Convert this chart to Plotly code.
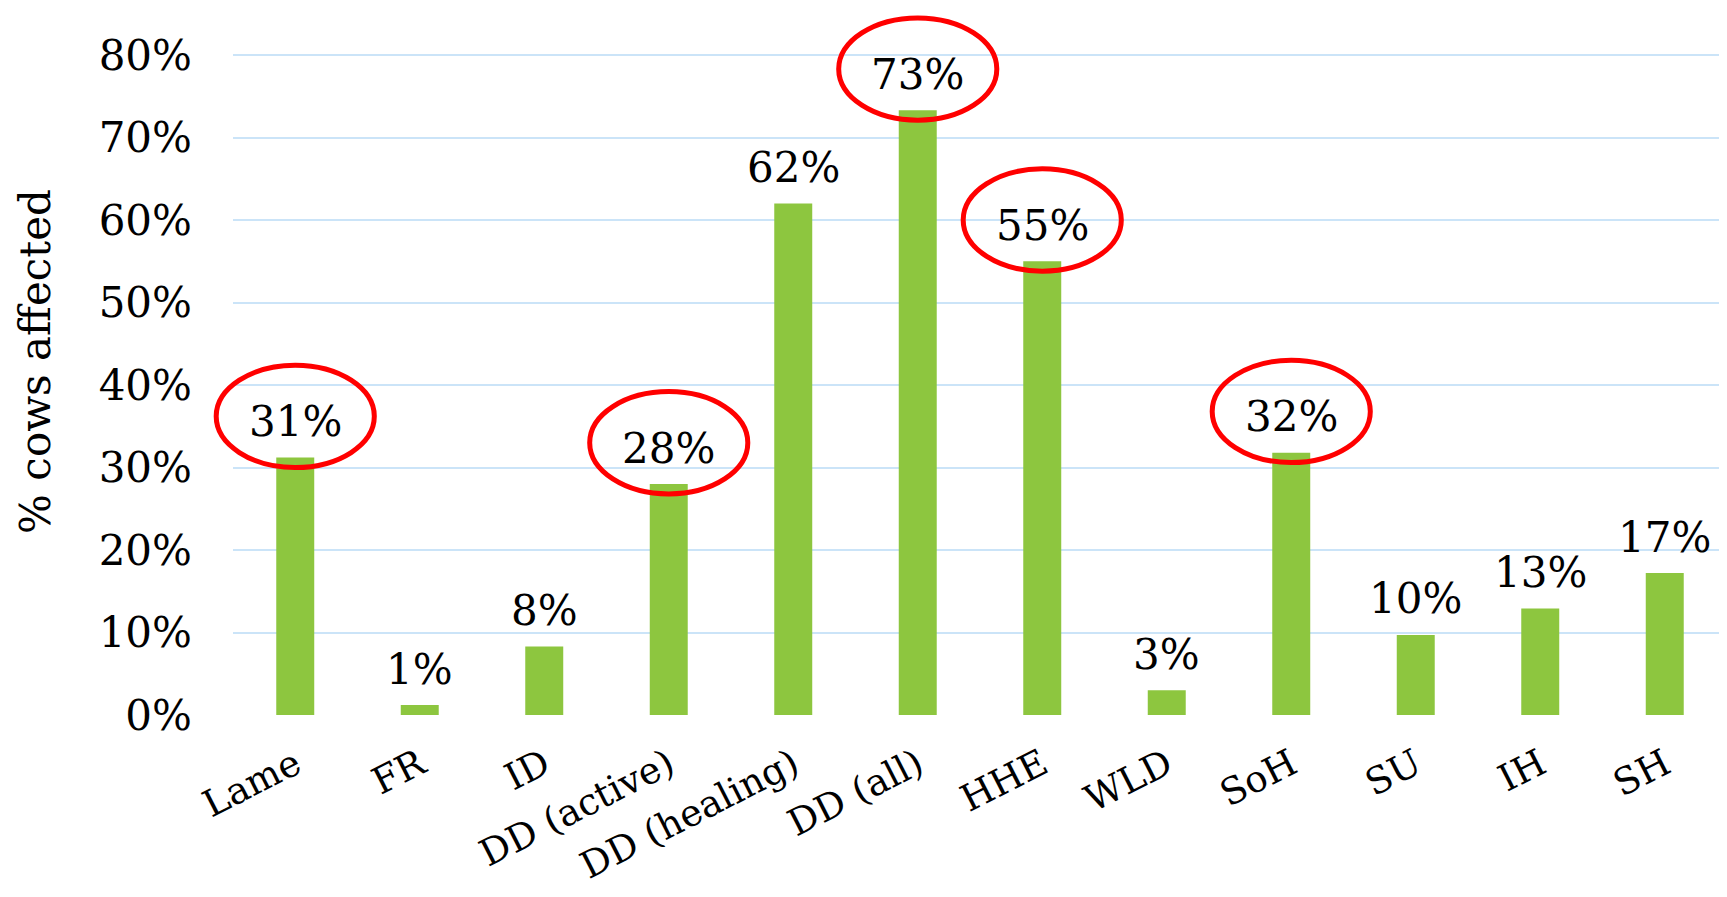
import plotly.graph_objects as go

categories = ["Lame", "FR", "ID", "DD (active)", "DD (healing)", "DD (all)",
              "HHE", "WLD", "SoH", "SU", "IH", "SH"]
values = [0.312, 0.012, 0.083, 0.280, 0.620, 0.733, 0.550, 0.030, 0.318, 0.097, 0.129, 0.172]
highlighted = ["Lame", "DD (active)", "DD (all)", "HHE", "SoH"]
y_ticks = [0, 0.1, 0.2, 0.3, 0.4, 0.5, 0.6, 0.7, 0.8]

FONT = "DejaVu Serif"
BAR = "#8DC63F"
GRID = "#CBE4F8"

n = len(categories)

fig = go.Figure()
fig.add_trace(go.Bar(
    x=categories, y=values,
    marker=dict(color=BAR, line=dict(width=0)),
    hoverinfo="skip",
))

annotations = []
shapes = []
half_w = 0.635  # ellipse half-width, in category units
for i, (c, v) in enumerate(zip(categories, values)):
    annotations.append(dict(
        x=c, y=v, xref="x", yref="y",
        text=f"{round(v * 100):.0f}%",
        showarrow=False, yanchor="middle", yshift=36,
        font=dict(family=FONT, size=42, color="black"),
    ))
    if c in highlighted:
        shapes.append(dict(
            type="circle", xref="paper", yref="y",
            x0=(i + 0.5 - half_w) / n, x1=(i + 0.5 + half_w) / n,
            y0=v - 0.012, y1=v + 0.112,
            line=dict(color="#FF0000", width=5),
            layer="above",
        ))

fig.update_layout(
    template="none",
    width=1719, height=889,
    margin=dict(l=225, r=0, t=0, b=182, autoexpand=False),
    plot_bgcolor="white", paper_bgcolor="white",
    bargap=0.695,
    showlegend=False,
    annotations=annotations,
    shapes=shapes,
    font=dict(family=FONT, size=42, color="black"),
)
fig.update_xaxes(
    type="category", automargin=False,
    range=[-0.5, n - 0.5],
    tickangle=-27,
    tickfont=dict(family=FONT, size=37, color="black"),
    showgrid=False, showline=False, zeroline=False,
    ticks="", ticklabelstandoff=20,
)
fig.update_yaxes(
    automargin=False,
    range=[0, 0.857],
    tickvals=y_ticks, tickformat=".0%",
    tickfont=dict(family=FONT, size=42, color="black"),
    showgrid=True, gridcolor=GRID, gridwidth=1.5,
    zeroline=False, showline=False, ticks="",
    ticklabelstandoff=40,
    title=dict(text="% cows affected", font=dict(family=FONT, size=42, color="black"), standoff=34),
)

fig.write_html("out.html")
